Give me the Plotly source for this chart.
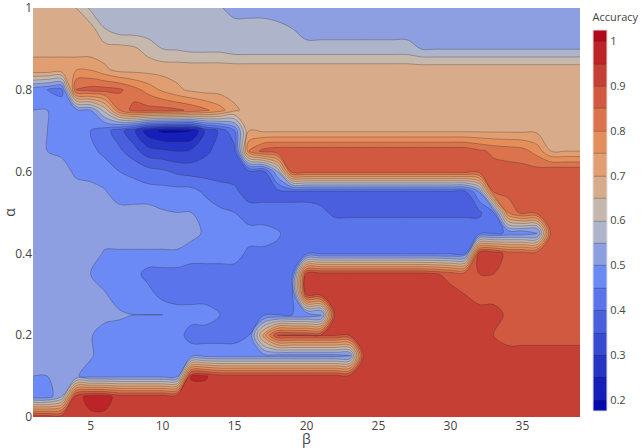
import plotly.graph_objects as go

# Grid: beta (columns) and alpha (rows)
beta = [1, 2, 3, 4, 5, 6, 7, 8, 9, 10, 11, 12, 13, 14, 15, 16, 17, 18, 19, 20,
        21, 22, 23, 24, 25, 26, 27, 28, 29, 30, 31, 32, 33, 34, 35, 36, 37, 38, 39]
alpha = [0.0, 0.05, 0.1, 0.15, 0.2, 0.25, 0.3, 0.35, 0.4, 0.45, 0.5,
         0.55, 0.6, 0.65, 0.7, 0.75, 0.8, 0.85, 0.9, 0.95, 1.0]

# Accuracy per alpha row, listed over beta = 1..39
acc_a000 = [0.93, 0.93, 0.93, 0.93, 0.94, 0.94, 0.93, 0.93, 0.93, 0.93,
            0.93, 0.93, 0.93, 0.93, 0.93, 0.93, 0.93, 0.93, 0.93, 0.93,
            0.93, 0.93, 0.93, 0.93, 0.93, 0.93, 0.93, 0.93, 0.93, 0.93,
            0.93, 0.93, 0.93, 0.93, 0.93, 0.93, 0.93, 0.93, 0.93]
acc_a005 = [0.47, 0.47, 0.55, 0.93, 0.97, 0.97, 0.93, 0.93, 0.93, 0.93,
            0.93, 0.93, 0.93, 0.93, 0.93, 0.93, 0.93, 0.93, 0.93, 0.93,
            0.93, 0.93, 0.93, 0.93, 0.93, 0.93, 0.93, 0.93, 0.93, 0.93,
            0.93, 0.93, 0.93, 0.93, 0.93, 0.93, 0.93, 0.93, 0.93]
acc_a010 = [0.50, 0.50, 0.515, 0.505, 0.48, 0.48, 0.48, 0.48, 0.48, 0.48,
            0.48, 0.955, 0.955, 0.92, 0.92, 0.92, 0.92, 0.92, 0.92, 0.92,
            0.92, 0.92, 0.92, 0.92, 0.92, 0.92, 0.92, 0.92, 0.92, 0.92,
            0.92, 0.92, 0.92, 0.92, 0.92, 0.92, 0.92, 0.92, 0.92]
acc_a015 = [0.52, 0.52, 0.52, 0.52, 0.505, 0.48, 0.48, 0.48, 0.48, 0.48,
            0.48, 0.48, 0.48, 0.48, 0.48, 0.48, 0.48, 0.48, 0.48, 0.48,
            0.48, 0.48, 0.48, 0.92, 0.92, 0.92, 0.92, 0.92, 0.92, 0.92,
            0.92, 0.92, 0.92, 0.92, 0.92, 0.92, 0.92, 0.92, 0.92]
acc_a020 = [0.52, 0.52, 0.52, 0.52, 0.505, 0.47, 0.47, 0.47, 0.47, 0.47,
            0.47, 0.43, 0.43, 0.43, 0.43, 0.45, 0.72, 0.905, 0.905, 0.905,
            0.905, 0.905, 0.905, 0.92, 0.92, 0.92, 0.92, 0.92, 0.92, 0.92,
            0.92, 0.92, 0.90, 0.88, 0.88, 0.88, 0.88, 0.88, 0.88]
acc_a025 = [0.52, 0.52, 0.52, 0.52, 0.52, 0.52, 0.51, 0.50, 0.50, 0.50,
            0.47, 0.47, 0.47, 0.45, 0.43, 0.43, 0.44, 0.45, 0.45, 0.45,
            0.45, 0.92, 0.92, 0.92, 0.92, 0.92, 0.92, 0.92, 0.92, 0.92,
            0.92, 0.92, 0.92, 0.89, 0.88, 0.88, 0.88, 0.88, 0.88]
acc_a030 = [0.52, 0.52, 0.52, 0.52, 0.52, 0.505, 0.47, 0.47, 0.47, 0.43,
            0.43, 0.43, 0.43, 0.43, 0.43, 0.43, 0.43, 0.43, 0.43, 0.92,
            0.92, 0.92, 0.92, 0.92, 0.92, 0.92, 0.92, 0.92, 0.92, 0.92,
            0.90, 0.88, 0.88, 0.88, 0.88, 0.88, 0.88, 0.88, 0.88]
acc_a035 = [0.52, 0.52, 0.52, 0.52, 0.50, 0.47, 0.47, 0.47, 0.43, 0.43,
            0.43, 0.43, 0.43, 0.43, 0.43, 0.43, 0.43, 0.43, 0.43, 0.92,
            0.92, 0.92, 0.92, 0.92, 0.92, 0.92, 0.92, 0.92, 0.905, 0.88,
            0.88, 0.90, 0.90, 0.88, 0.88, 0.88, 0.88, 0.88, 0.88]
acc_a040 = [0.52, 0.52, 0.52, 0.52, 0.52, 0.495, 0.495, 0.495, 0.495, 0.495,
            0.495, 0.47, 0.47, 0.47, 0.47, 0.44, 0.44, 0.44, 0.44, 0.44,
            0.44, 0.44, 0.44, 0.44, 0.44, 0.44, 0.44, 0.44, 0.44, 0.44,
            0.44, 0.925, 0.935, 0.88, 0.88, 0.88, 0.88, 0.88, 0.88]
acc_a045 = [0.52, 0.52, 0.52, 0.52, 0.52, 0.52, 0.52, 0.52, 0.52, 0.52,
            0.52, 0.52, 0.49, 0.47, 0.47, 0.47, 0.47, 0.455, 0.43, 0.43,
            0.43, 0.43, 0.43, 0.43, 0.43, 0.43, 0.43, 0.43, 0.43, 0.43,
            0.43, 0.43, 0.43, 0.46, 0.46, 0.46, 0.87, 0.87, 0.87]
acc_a050 = [0.52, 0.52, 0.52, 0.52, 0.52, 0.52, 0.52, 0.52, 0.52, 0.505,
            0.50, 0.50, 0.48, 0.46, 0.45, 0.42, 0.42, 0.42, 0.42, 0.42,
            0.41, 0.39, 0.39, 0.39, 0.39, 0.39, 0.39, 0.39, 0.39, 0.39,
            0.39, 0.39, 0.45, 0.80, 0.87, 0.87, 0.87, 0.87, 0.87]
acc_a055 = [0.52, 0.52, 0.52, 0.52, 0.52, 0.505, 0.47, 0.47, 0.47, 0.47,
            0.47, 0.47, 0.44, 0.42, 0.41, 0.38, 0.38, 0.38, 0.38, 0.38,
            0.38, 0.38, 0.38, 0.38, 0.38, 0.38, 0.38, 0.38, 0.38, 0.38,
            0.38, 0.50, 0.85, 0.87, 0.87, 0.87, 0.87, 0.87, 0.87]
acc_a060 = [0.52, 0.52, 0.52, 0.49, 0.48, 0.47, 0.45, 0.44, 0.42, 0.41,
            0.39, 0.38, 0.38, 0.38, 0.38, 0.38, 0.38, 0.55, 0.87, 0.87,
            0.87, 0.87, 0.87, 0.87, 0.87, 0.87, 0.87, 0.87, 0.87, 0.87,
            0.87, 0.87, 0.87, 0.87, 0.87, 0.87, 0.89, 0.89, 0.89]
acc_a065 = [0.52, 0.50, 0.49, 0.47, 0.46, 0.44, 0.41, 0.37, 0.32, 0.31,
            0.30, 0.31, 0.34, 0.37, 0.38, 0.80, 0.87, 0.885, 0.885, 0.885,
            0.885, 0.885, 0.885, 0.885, 0.885, 0.885, 0.885, 0.885, 0.885, 0.885,
            0.885, 0.86, 0.84, 0.83, 0.82, 0.78, 0.70, 0.70, 0.70]
acc_a070 = [0.52, 0.50, 0.47, 0.46, 0.45, 0.42, 0.37, 0.31, 0.22, 0.19,
            0.19, 0.195, 0.31, 0.36, 0.45, 0.70, 0.69, 0.69, 0.69, 0.69,
            0.69, 0.69, 0.69, 0.69, 0.69, 0.69, 0.69, 0.69, 0.69, 0.69,
            0.69, 0.69, 0.69, 0.69, 0.69, 0.69, 0.69, 0.69, 0.69]
acc_a075 = [0.50, 0.50, 0.49, 0.48, 0.50, 0.62, 0.80, 0.87, 0.87, 0.87,
            0.86, 0.84, 0.81, 0.77, 0.71, 0.68, 0.68, 0.68, 0.68, 0.68,
            0.68, 0.68, 0.68, 0.68, 0.68, 0.68, 0.68, 0.68, 0.68, 0.68,
            0.68, 0.68, 0.68, 0.68, 0.68, 0.68, 0.68, 0.68, 0.68]
acc_a080 = [0.47, 0.45, 0.43, 0.86, 0.87, 0.87, 0.86, 0.82, 0.78, 0.74,
            0.71, 0.69, 0.68, 0.68, 0.68, 0.68, 0.68, 0.68, 0.68, 0.68,
            0.68, 0.68, 0.68, 0.68, 0.68, 0.68, 0.68, 0.68, 0.68, 0.68,
            0.68, 0.68, 0.68, 0.68, 0.68, 0.68, 0.68, 0.68, 0.68]
acc_a085 = [0.745, 0.745, 0.745, 0.745, 0.745, 0.71, 0.68, 0.68, 0.68, 0.68,
            0.68, 0.68, 0.68, 0.68, 0.68, 0.68, 0.68, 0.68, 0.68, 0.68,
            0.68, 0.68, 0.68, 0.68, 0.68, 0.68, 0.68, 0.68, 0.68, 0.68,
            0.68, 0.68, 0.68, 0.68, 0.68, 0.68, 0.68, 0.68, 0.68]
acc_a090 = [0.67, 0.67, 0.67, 0.67, 0.67, 0.67, 0.67, 0.66, 0.63, 0.60,
            0.595, 0.585, 0.585, 0.585, 0.57, 0.57, 0.57, 0.57, 0.57, 0.57,
            0.57, 0.57, 0.57, 0.57, 0.57, 0.57, 0.57, 0.548, 0.548, 0.548,
            0.548, 0.548, 0.548, 0.548, 0.548, 0.548, 0.548, 0.548, 0.548]
acc_a095 = [0.67, 0.67, 0.67, 0.67, 0.67, 0.60, 0.57, 0.57, 0.57, 0.57,
            0.57, 0.57, 0.57, 0.57, 0.57, 0.57, 0.57, 0.56, 0.55, 0.525,
            0.525, 0.525, 0.525, 0.525, 0.525, 0.525, 0.525, 0.525, 0.525, 0.525,
            0.525, 0.525, 0.525, 0.525, 0.525, 0.525, 0.525, 0.525, 0.525]
acc_a100 = [0.67, 0.67, 0.67, 0.65, 0.59, 0.57, 0.57, 0.57, 0.57, 0.57,
            0.57, 0.57, 0.57, 0.555, 0.53, 0.53, 0.53, 0.53, 0.53, 0.53,
            0.53, 0.53, 0.53, 0.53, 0.53, 0.53, 0.53, 0.53, 0.53, 0.53,
            0.53, 0.53, 0.53, 0.53, 0.53, 0.53, 0.53, 0.53, 0.53]

accuracy = [acc_a000, acc_a005, acc_a010, acc_a015, acc_a020, acc_a025, acc_a030,
            acc_a035, acc_a040, acc_a045, acc_a050, acc_a055, acc_a060, acc_a065,
            acc_a070, acc_a075, acc_a080, acc_a085, acc_a090, acc_a095, acc_a100]

rdbu = [[0.0, 'rgb(5,10,172)'], [0.35, 'rgb(106,137,247)'], [0.5, 'rgb(190,190,190)'],
        [0.6, 'rgb(220,170,132)'], [0.7, 'rgb(230,145,90)'], [1.0, 'rgb(178,10,28)']]

fig = go.Figure(go.Contour(
    x=beta, y=alpha, z=accuracy,
    colorscale=rdbu,
    autocontour=False,
    contours=dict(start=0.2, end=1.0, size=0.05, coloring='fill'),
    line=dict(width=0.5, smoothing=1, color='rgba(40,40,40,0.6)'),
    colorbar=dict(
        title=dict(text='Accuracy', side='top', font=dict(size=11)),
        thickness=14, x=1.0, xpad=13,
        y=0.995, yanchor='top', lenmode='pixels', len=401, ypad=0,
        tickfont=dict(size=11), outlinewidth=1, outlinecolor='#dddddd',
    ),
))

fig.update_layout(
    width=643, height=448,
    margin=dict(l=33, r=63, t=8, b=31, autoexpand=False),
    font=dict(family='Open Sans', color='#444', size=12),
    paper_bgcolor='white', plot_bgcolor='white',
    xaxis=dict(title=dict(text='β', font=dict(size=14), standoff=0),
               range=[1, 39], tick0=0, dtick=5, ticks='', showgrid=False,
               zeroline=False, automargin=False, ticklabeloverflow='allow'),
    yaxis=dict(title=dict(text='α', font=dict(size=14), standoff=0),
               range=[0, 1], ticks='', showgrid=False, zeroline=False,
               automargin=False, ticklabeloverflow='allow'),
)

fig.write_html("out.html")
